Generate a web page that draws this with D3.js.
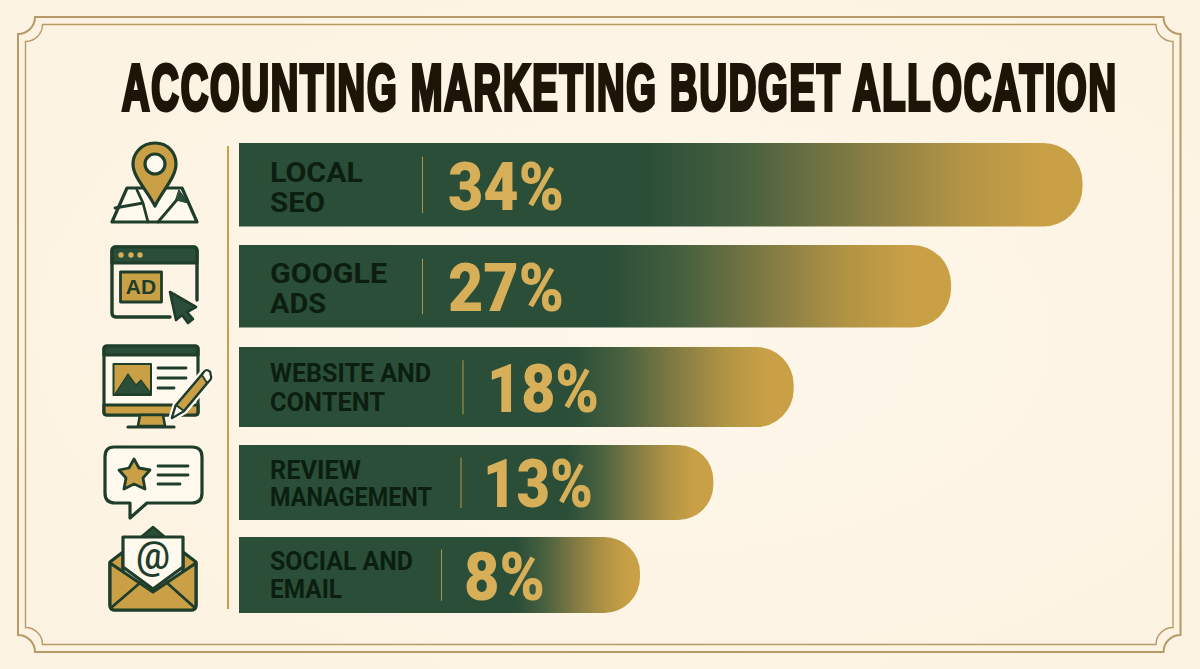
<!DOCTYPE html>
<html><head><meta charset="utf-8">
<script src="https://cdn.jsdelivr.net/npm/d3@7/dist/d3.min.js"></script>
<style>html,body{margin:0;padding:0;background:#fdf3e3;overflow:hidden}svg{display:block}</style>
</head><body><svg id="c" width="1200" height="669"></svg>
<script>
const titleText = "ACCOUNTING MARKETING BUDGET ALLOCATION";
const categories = ["Local SEO","Google Ads","Website and Content","Review Management","Social and Email"];
const labelLines = [["LOCAL","SEO"],["GOOGLE","ADS"],["WEBSITE AND","CONTENT"],["REVIEW","MANAGEMENT"],["SOCIAL AND","EMAIL"]];
const shares = [34,27,18,13,8];

const GREEN="#2a4e38", DARK="#1e3d2b", GOLD="#c9a046", PCT="#d8af59", INK="#0c1e0f", PAPER="#fff9ee", FRAME="#b79a68";
const W=1200,H=669;
const svg=d3.select("#c");
const defs=svg.append("defs");

const bg=defs.append("radialGradient").attr("id","bg").attr("cx","55%").attr("cy","50%").attr("r","70%");
bg.append("stop").attr("offset","0").attr("stop-color","#fef7ea");
bg.append("stop").attr("offset","1").attr("stop-color","#fcf2e1");
svg.append("rect").attr("width",W).attr("height",H).attr("fill","url(#bg)");

// frame with scooped corners
function frame(x0,y0,x1,y1,r){
  const p=d3.path();
  p.moveTo(x0+r,y0);p.lineTo(x1-r,y0);
  p.arc(x1,y0,r,Math.PI,Math.PI/2,true);
  p.lineTo(x1,y1-r);
  p.arc(x1,y1,r,-Math.PI/2,-Math.PI,true);
  p.lineTo(x0+r,y1);
  p.arc(x0,y1,r,0,-Math.PI/2,true);
  p.lineTo(x0,y0+r);
  p.arc(x0,y0,r,Math.PI/2,0,true);
  p.closePath();
  return p.toString();
}
svg.append("path").attr("d",frame(18,17,1180.5,652,17)).attr("fill","none").attr("stroke",FRAME).attr("stroke-width",2);
svg.append("path").attr("d",frame(25.5,24.5,1173,644.5,17)).attr("fill","none").attr("stroke",FRAME).attr("stroke-width",1.4);

// title: bold face squeezed into the reference's condensed width
const title=svg.append("text").text(titleText).attr("x",0).attr("y",0)
  .attr("font-family","'Liberation Sans'").attr("font-weight",700)
  .attr("font-size",64).attr("letter-spacing",3).attr("fill","#1f1408").attr("stroke","#1f1408")
  .attr("stroke-width",3.4).style("vector-effect","non-scaling-stroke");
const tw=title.node().getComputedTextLength();
title.attr("transform",`translate(122,110) scale(${996/tw},1)`);

// scales
const idx=d3.range(shares.length);
const x=d3.scalePow().exponent(1.23).domain([8,34]).range([640,1082.5]);
const barLeft=239;
const barTop=d3.scaleOrdinal().domain(idx).range([143,245,347,445,537]);
const barBot=d3.scaleOrdinal().domain(idx).range([226.5,327.5,427,520,613]);
const dividerX=[422.5,422.5,463,461,441.5], pctX=[449,449,488,484,465], pctY=[210,311,412,507,600],pctW=[114,114,110,108,79];
const labBase=[[181.5,212],[283,313],[382,411],[479,506],[570,598]], labSize=[27.5,28.5,25,25,25];
const labW=[[93,55],[117,56],[161,115],[91,162],[143,72]];
const fadeStart=[.48,.52,.6,.69,.69], fadeEnd=[.95,.94,.95,.96,.97];

const bars=svg.selectAll("g.bar").data(shares).join("g").attr("class","bar").attr("aria-label",(d,i)=>categories[i]);
shares.forEach((v,i)=>{
  const g=defs.append("linearGradient").attr("id","g"+i).attr("gradientUnits","userSpaceOnUse")
    .attr("x1",barLeft).attr("x2",x(v)).attr("y1",0).attr("y2",0);
  const a=fadeStart[i],b=fadeEnd[i];
  [[0,GREEN],[a,GREEN],[a+(b-a)*.25,"#47603f"],[a+(b-a)*.55,"#857c44"],[a+(b-a)*.8,"#b29444"],[b,GOLD],[1,GOLD]]
    .forEach(d=>g.append("stop").attr("offset",d[0]).attr("stop-color",d[1]));
});
bars.append("path").attr("fill",(d,i)=>`url(#g${i})`).attr("d",(d,i)=>{
  const y=barTop(i),h=barBot(i)-y,r=h*0.47,e=x(d);
  return `M${barLeft},${y}H${e-r}A${r},${r} 0 0 1 ${e},${y+r}V${y+h-r}A${r},${r} 0 0 1 ${e-r},${y+h}H${barLeft}Z`;
});
bars.each(function(d,i){
  const g=d3.select(this),y=barTop(i),h=barBot(i)-y;
  g.append("line").attr("x1",dividerX[i]).attr("x2",dividerX[i]).attr("y1",y+h*.165).attr("y2",y+h*.84).attr("stroke","#a8924a").attr("stroke-width",1.1);
  labelLines[i].forEach((t,k)=>{
    g.append("text").text(t).attr("x",270).attr("y",labBase[i][k])
     .attr("font-family","Roboto").attr("font-weight",700).attr("font-size",labSize[i])
     .attr("textLength",labW[i][k]).attr("lengthAdjust","spacingAndGlyphs")
     .attr("fill",INK);
  });
  g.append("text").text(d+"%").attr("x",pctX[i]-1).attr("y",pctY[i])
   .attr("font-family","Roboto").attr("font-weight",900).attr("font-size",66).attr("fill",PCT)
   .attr("textLength",pctW[i]+2).attr("lengthAdjust","spacingAndGlyphs");
});
svg.append("line").attr("x1",228).attr("x2",228).attr("y1",146).attr("y2",609).attr("stroke",GOLD).attr("stroke-width",2);

// icons
const ic=svg.append("g").attr("stroke-linejoin","round").attr("stroke-linecap","round");
function P(d,f,w,s){return ic.append("path").attr("d",d).attr("fill",f||"none").attr("stroke",s||DARK).attr("stroke-width",w||3.2);}
// pin
P("M127,188H182L197,222H112Z",PAPER);
P("M115,208L143,203L148,222M143,203L137,190M158,222L181,195",null,2.8);
P("M179,190L188,203L176,200Z",GREEN,1);
P("M155,143C141,143 133,154 133,164C133,177 147,190 155,206C163,190 176,177 176,164C176,154 169,143 155,143Z",GOLD);
ic.append("circle").attr("cx",155).attr("cy",164).attr("r",10).attr("fill",PAPER).attr("stroke",DARK).attr("stroke-width",3.2);
// ad
P("M170,317H116Q112,317 112,313V251Q112,247 116,247H193Q197,247 197,251V300",null,3.4);
P("M112,263V251Q112,247 116,247H193Q197,247 197,251V263Z",GREEN);
[121,131,140].forEach(cx=>ic.append("circle").attr("cx",cx).attr("cy",255).attr("r",2.7).attr("fill","#d8af59"));
ic.append("rect").attr("x",120.5).attr("y",272).attr("width",41).attr("height",30).attr("fill",GOLD).attr("stroke",DARK).attr("stroke-width",2.8);
ic.append("text").text("AD").attr("x",141).attr("y",294).attr("text-anchor","middle").attr("font-family","'Liberation Sans'").attr("font-weight",700).attr("font-size",21).attr("fill",DARK);
P("M170,292L196,307L187,312L193,319L188,323L182,315L176,320Z",GREEN,2.6);
// monitor
P("M107,346H195Q198,346 198,349V412Q198,415 195,415H107Q104,415 104,412V349Q104,346 107,346Z",PAPER);
P("M107,346H195Q198,346 198,349V355H104V349Q104,346 107,346Z",GREEN);
P("M104,405H198V412Q198,415 195,415H107Q104,415 104,412Z",GOLD);
P("M140,415L138,426H165L163,415Z",GOLD,2.6);
P("M128,427H174",null,3.2);
ic.append("rect").attr("x",113.5).attr("y",364).attr("width",37.5).attr("height",31).attr("fill",GOLD).attr("stroke",DARK).attr("stroke-width",2);
P("M115,394L128,374L136,385L141,380L150,392V394Z",GREEN,1.2);
P("M158,368H186M158,378H186M158,388H174",null,2.8);
P("M172,418L176,405L204,372Q207,369 210,372L210.5,375Q212,378 209,381L184,411Z",GOLD,7,PAPER);
P("M172,418L176,405L204,372Q207,369 210,372L210.5,375Q212,378 209,381L184,411Z",GOLD,2.6);
P("M172,418L176,405L184,411Z",PAPER,2);
P("M202,375L205,371Q207,369 210,372L210.5,375Q212,378 209,381L207,383Z",PAPER,1.8);
// review
P("M114,447H192Q202,447 202,457V493Q202,503 192,503H147L130,518V503H115Q105,503 105,493V457Q105,447 114,447Z",PAPER);
P("M134,459L139,468L150,470L143,478L145,489L134,484L124,489L126,478L119,470L129,468Z",GOLD,2.8);
P("M158,466H188M158,475H188M158,484H180",null,2.8);
// mail
P("M140,538L153,527L166,538Z",GREEN,2.4);
P("M110,562L123,552V590H183V552L196,562V605Q196,610 191,610H115Q110,610 110,605Z",GOLD);
P("M123,537H183V567L153,589L123,567Z",PAPER);
P("M110,563L153,592L196,563V605Q196,610 191,610H115Q110,610 110,605Z",GOLD);
P("M112,607L141,582M194,607L166,582",null,2.8);
ic.append("text").text("@").attr("x",153).attr("y",569).attr("text-anchor","middle").attr("font-family","Roboto").attr("font-weight",500).attr("font-size",38).attr("fill",DARK);
</script></body></html>
